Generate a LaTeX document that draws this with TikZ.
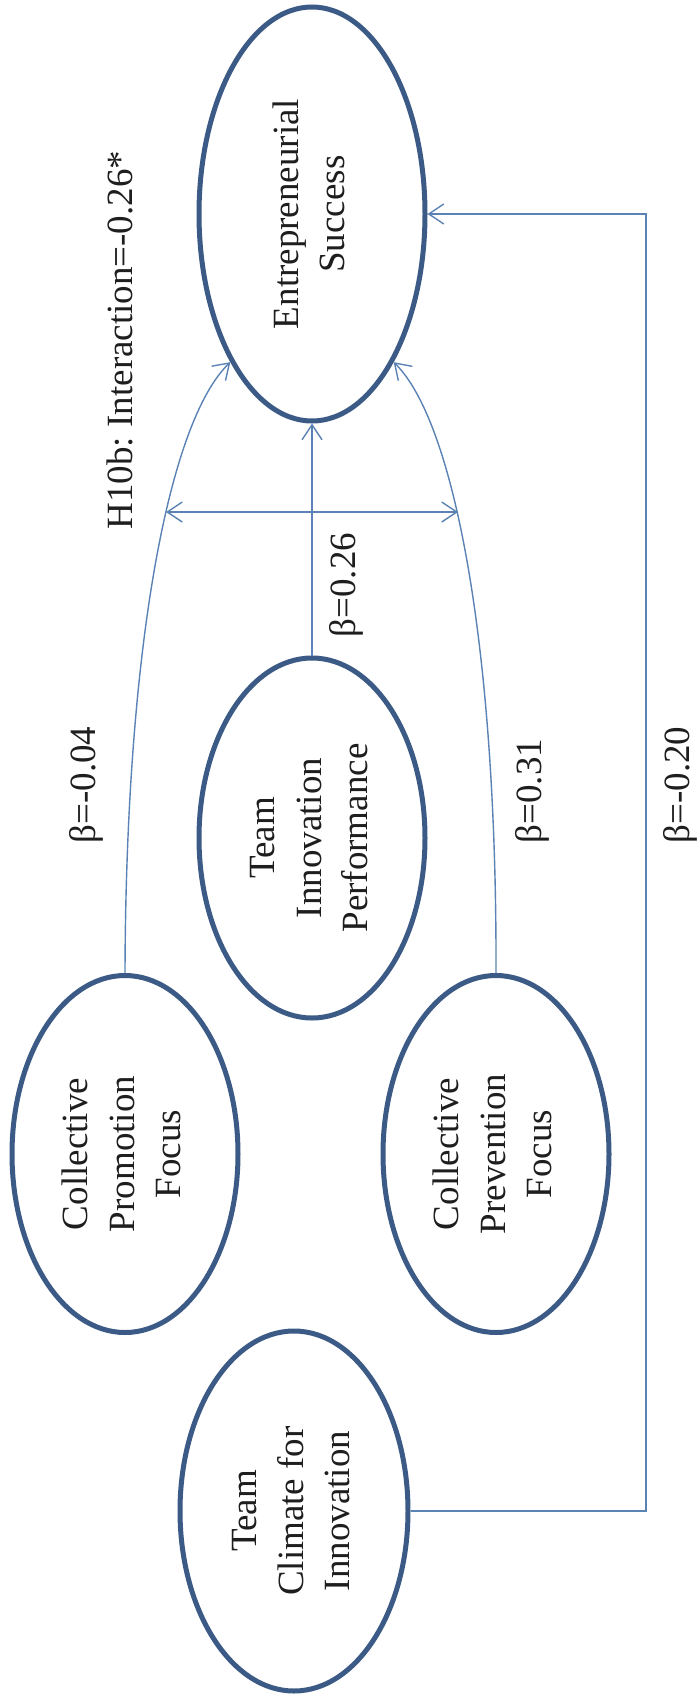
\documentclass[tikz,border=0pt]{standalone}
\usepackage{fontspec}
\setmainfont{Liberation Serif}
\usetikzlibrary{shapes.geometric,arrows.meta}

\definecolor{rimblue}{HTML}{3B5A85}
\definecolor{linkblue}{HTML}{5A82B4}
\definecolor{inkgray}{HTML}{1E1E1E}

\newcommand{\sidewise}[1]{\rotatebox{90}{\begin{tabular}{@{}c@{}}#1\end{tabular}}}

\begin{document}
\frenchspacing
\begin{tikzpicture}[x=1pt,y=-1pt,
  every node/.style={font=\fontsize{37}{46.5}\selectfont, text=inkgray},
  construct/.style={ellipse, draw=rimblue, line width=5pt, fill=white,
    inner sep=0pt, minimum width=226pt},
  link/.style={draw=linkblue, line width=1.4pt},
  tip/.style={-{Straight Barb[length=15pt,width=20pt,line width=1.4pt]}},
  bothtips/.style={{Straight Barb[length=15pt,width=20pt,line width=1.4pt]}-{Straight Barb[length=15pt,width=20pt,line width=1.4pt]}},
  coef/.style={inner sep=0pt}]

  % page frame
  \useasboundingbox (0,0) rectangle (698,1697);

  % constructs
  \node[construct, minimum height=414pt] (es)  at (312,214)  {\sidewise{Entrepreneurial\\Success}};
  \node[construct, minimum height=360pt] (tip) at (312,838)  {\sidewise{Team\\Innovation\\Performance}};
  \node[construct, minimum height=357pt] (cpf) at (125,1154) {\sidewise{Collective\\Promotion\\Focus}};
  \node[construct, minimum height=357pt] (cvf) at (496,1154) {\sidewise{Collective\\Prevention\\Focus}};
  \node[construct, minimum height=360pt, minimum width=228pt] (tci) at (294,1511) {\sidewise{Team\\Climate for\\Innovation}};

  % path helpers
  \coordinate (rail) at (646,1511);
  \coordinate (hl) at (166,512);
  \coordinate (hr) at (458,512);

  % connectors
  \draw[link, tip] (tip.north) -- (es.south);
  \draw[link, tip] (cpf.north) .. controls (126,640) and (170,420) .. (es.south west);
  \draw[link, tip] (cvf.north) .. controls (497,640) and (453,420) .. (es.south east);
  \draw[link, tip] (tci.east) -- (rail) |- (es.east);
  \draw[link, bothtips] (hl) -- (hr);

  % coefficients
  \node[coef] (lint) at (120,340) {\rotatebox{90}{H10b: Interaction=-0.26*}};
  \node[coef] (lcpf) at (86,785)  {\rotatebox{90}{β=-0.04}};
  \node[coef] (ltip) at (346,585) {\rotatebox{90}{β=0.26}};
  \node[coef] (lcvf) at (532,791) {\rotatebox{90}{β=0.31}};
  \node[coef] (ltci) at (680,785) {\rotatebox{90}{β=-0.20}};
\end{tikzpicture}
\end{document}
